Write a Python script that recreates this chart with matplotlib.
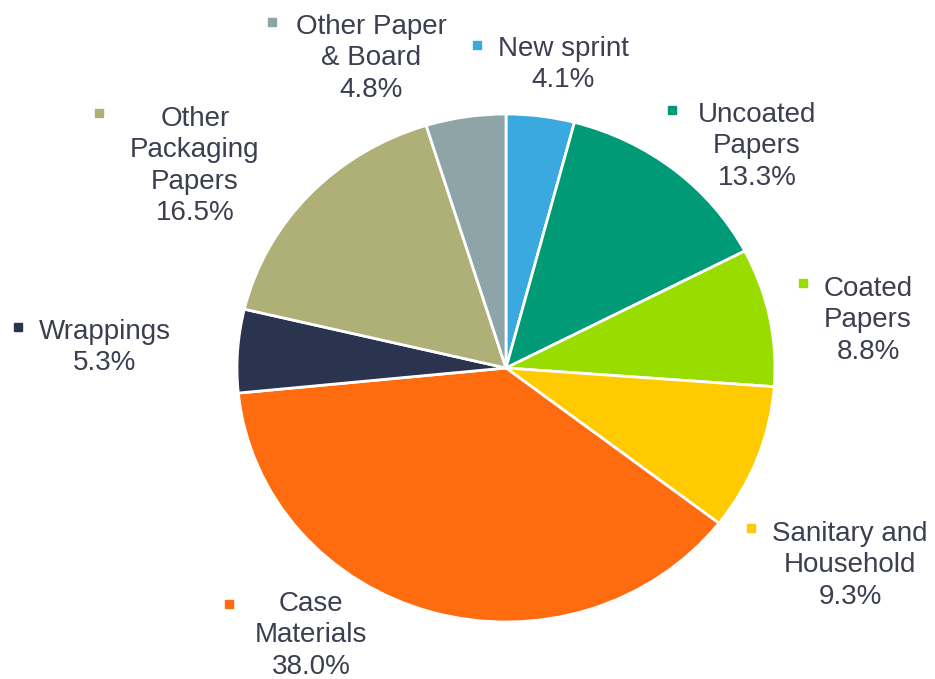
import matplotlib.pyplot as plt

labels = ["New sprint", "Uncoated\nPapers", "Coated\nPapers", "Sanitary and\nHousehold",
          "Case\nMaterials", "Wrappings", "Other\nPackaging\nPapers", "Other Paper\n& Board"]
shares = [4.1, 13.3, 8.8, 9.3, 38.0, 5.3, 16.5, 4.8]
colors = ["#3aa9e0", "#009a76", "#99dc00", "#ffcb00", "#ff6c10", "#2a344f", "#afaf78", "#8fa4a6"]

# label layout in pixels: text centre x, first line centre y, marker x, marker y
label_pos = [(563, 47, 477, 45), (757, 113, 672, 110), (868, 287, 803, 283),
             (850, 532, 751, 528), (311, 602, 229, 604), (105, 330, 18, 327),
             (195, 117, 99, 113), (371, 25, 272, 22)]

W, H = 935, 679
cx, cy, rx, ry = 506, 368, 269, 254

fig = plt.figure(figsize=(W / 100, H / 100), dpi=100)
ax = fig.add_axes([0, 0, 1, 1])
ax.pie(shares, colors=colors, startangle=90, counterclock=False,
       wedgeprops=dict(edgecolor="white", linewidth=2))
ax.set_aspect("auto")
ax.set_xlim(-cx / rx, (W - cx) / rx)
ax.set_ylim(-(H - cy) / ry, cy / ry)
ax.axis("off")

txt_color = "#3c3f50"
for lab, val, col, (tx, ty, mx, my) in zip(labels, shares, colors, label_pos):
    fig.text(tx / W, 1 - (ty - 11) / H, f"{lab}\n{val:.1f}%", ha="center", va="top",
             fontsize=20, color=txt_color, family="Liberation Sans", linespacing=1.27)
    ax.plot([mx / W], [1 - my / H], marker="s", markersize=6, color=col,
            transform=fig.transFigure, clip_on=False)

fig.savefig("out.png", dpi=100)
